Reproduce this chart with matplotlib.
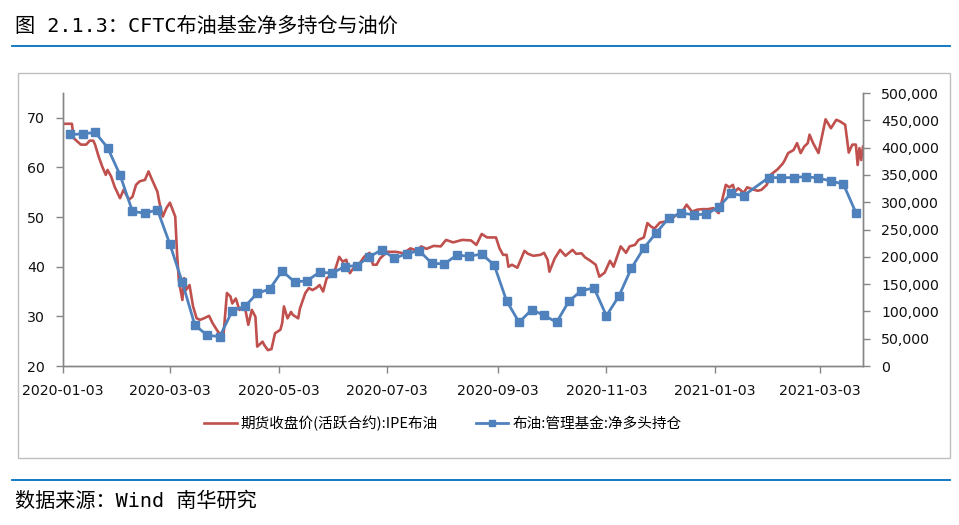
import matplotlib
matplotlib.use('Agg')
import matplotlib.pyplot as plt
import matplotlib.dates as mdates
import matplotlib.ticker as mticker
import pandas as pd
from matplotlib.patches import Rectangle
from matplotlib.lines import Line2D

CJK = ['Noto Sans CJK SC', 'DejaVu Sans']
MONO_CJK = ['DejaVu Sans Mono', 'Noto Sans CJK SC']

# 期货收盘价(活跃合约):IPE布油
price_dates = [
    '2020-01-03', '2020-01-08', '2020-01-09', '2020-01-13', '2020-01-16', '2020-01-18', '2020-01-20',
    '2020-01-21', '2020-01-23', '2020-01-25', '2020-01-27', '2020-01-28', '2020-01-30', '2020-02-01',
    '2020-02-04', '2020-02-06', '2020-02-09', '2020-02-11', '2020-02-13', '2020-02-15', '2020-02-18',
    '2020-02-20', '2020-02-22', '2020-02-25', '2020-02-26', '2020-02-28', '2020-03-01', '2020-03-03',
    '2020-03-06', '2020-03-07', '2020-03-08', '2020-03-10', '2020-03-11', '2020-03-12', '2020-03-14',
    '2020-03-16', '2020-03-18', '2020-03-20', '2020-03-22', '2020-03-25', '2020-03-27', '2020-03-30',
    '2020-04-02', '2020-04-04', '2020-04-06', '2020-04-07', '2020-04-09', '2020-04-11', '2020-04-14',
    '2020-04-16', '2020-04-18', '2020-04-20', '2020-04-21', '2020-04-24', '2020-04-25', '2020-04-27',
    '2020-04-29', '2020-05-01', '2020-05-04', '2020-05-05', '2020-05-06', '2020-05-08', '2020-05-10',
    '2020-05-11', '2020-05-14', '2020-05-15', '2020-05-18', '2020-05-20', '2020-05-22', '2020-05-24',
    '2020-05-26', '2020-05-28', '2020-05-30', '2020-06-02', '2020-06-04', '2020-06-06', '2020-06-08',
    '2020-06-10', '2020-06-12', '2020-06-14', '2020-06-17', '2020-06-20', '2020-06-23', '2020-06-25',
    '2020-06-27', '2020-06-29', '2020-07-03', '2020-07-08', '2020-07-12', '2020-07-16', '2020-07-20',
    '2020-07-22', '2020-07-25', '2020-07-29', '2020-08-02', '2020-08-05', '2020-08-09', '2020-08-14',
    '2020-08-19', '2020-08-22', '2020-08-25', '2020-08-28', '2020-09-02', '2020-09-04', '2020-09-06',
    '2020-09-08', '2020-09-09', '2020-09-11', '2020-09-14', '2020-09-18', '2020-09-20', '2020-09-23',
    '2020-09-27', '2020-09-29', '2020-10-01', '2020-10-02', '2020-10-05', '2020-10-08', '2020-10-11',
    '2020-10-15', '2020-10-17', '2020-10-20', '2020-10-22', '2020-10-25', '2020-10-28', '2020-10-30',
    '2020-11-02', '2020-11-05', '2020-11-07', '2020-11-11', '2020-11-14', '2020-11-16', '2020-11-19',
    '2020-11-21', '2020-11-24', '2020-11-26', '2020-11-28', '2020-11-30', '2020-12-03', '2020-12-06',
    '2020-12-09', '2020-12-12', '2020-12-15', '2020-12-18', '2020-12-21', '2020-12-24', '2020-12-27',
    '2020-12-30', '2021-01-02', '2021-01-05', '2021-01-07', '2021-01-09', '2021-01-11', '2021-01-13',
    '2021-01-14', '2021-01-16', '2021-01-19', '2021-01-21', '2021-01-24', '2021-01-27', '2021-01-29',
    '2021-02-01', '2021-02-03', '2021-02-07', '2021-02-10', '2021-02-11', '2021-02-13', '2021-02-16',
    '2021-02-18', '2021-02-20', '2021-02-22', '2021-02-24', '2021-02-25', '2021-02-27', '2021-03-02',
    '2021-03-06', '2021-03-09', '2021-03-12', '2021-03-14', '2021-03-17', '2021-03-19', '2021-03-21',
    '2021-03-23', '2021-03-24', '2021-03-25', '2021-03-26', '2021-03-27',
]
price = [
    68.8, 68.8, 65.9, 64.6, 64.6, 65.4, 65.4,
    64.6, 62.2, 60.2, 58.5, 59.5, 58.2, 56.1,
    53.8, 55.5, 53.5, 54.1, 56.5, 57.2, 57.5,
    59.2, 57.5, 55.1, 53.1, 50.1, 51.8, 52.9,
    50.1, 42.7, 37.3, 33.3, 37.7, 35.3, 36.3,
    32.0, 29.6, 29.3, 29.6, 30.1, 28.6, 26.9,
    25.9, 34.7, 34.0, 32.6, 33.6, 31.3, 32.0,
    28.3, 31.3, 29.9, 23.9, 24.9, 24.2, 23.2,
    23.4, 26.6, 27.3, 28.6, 32.0, 29.6, 30.9,
    30.3, 29.6, 31.6, 34.7, 35.7, 35.3, 35.7,
    36.3, 35.0, 37.7, 38.3, 39.7, 42.0, 41.0,
    41.4, 38.7, 39.7, 40.4, 42.0, 42.8, 40.4,
    40.4, 41.7, 43.0, 43.0, 42.7, 43.7, 43.2,
    44.1, 43.6, 44.2, 44.1, 45.4, 44.9, 45.4,
    45.3, 44.4, 46.6, 45.9, 45.9, 43.7, 42.4,
    42.4, 40.0, 40.4, 39.8, 43.2, 42.6, 42.2,
    42.4, 42.8, 41.4, 39.0, 41.7, 43.4, 42.2,
    43.4, 42.6, 42.7, 41.9, 41.2, 40.4, 38.0,
    38.8, 41.2, 40.0, 44.1, 42.8, 44.1, 44.4,
    45.4, 45.9, 48.8, 48.1, 47.7, 48.9, 49.1,
    49.4, 50.4, 50.8, 52.5, 51.1, 51.5, 51.6,
    51.6, 51.8, 50.8, 53.5, 56.5, 56.0, 56.5,
    55.1, 55.8, 54.9, 56.0, 55.6, 55.3, 55.5,
    56.5, 58.5, 59.6, 60.8, 61.4, 62.9, 63.5,
    64.9, 62.9, 64.2, 64.9, 66.6, 64.9, 62.9,
    69.7, 67.9, 69.6, 69.3, 68.6, 63.0, 64.6,
    64.6, 60.5, 63.9, 61.5, 64.2,
]

# 布油:管理基金:净多头持仓 (weekly, Tuesday; 2021-01-26 missing)
pos_dates = [d for d in pd.date_range('2020-01-07', '2021-03-23', freq='7D')
             if d != pd.Timestamp('2021-01-26')]
net_long = [
    424000, 425000, 428000, 400000, 350000, 283000, 280000, 286000, 223000, 153000,
    75000, 56000, 54000, 101000, 109000, 133000, 141000, 174000, 154000, 156000,
    172000, 170000, 182000, 184000, 200000, 213000, 197000, 206000, 211000, 188000,
    187000, 203000, 201000, 205000, 185000, 119000, 80000, 103000, 93000, 80000,
    119000, 138000, 143000, 92000, 128000, 179000, 216000, 244000, 271000, 280000,
    277000, 278000, 291000, 316000, 312000, 345000, 345000, 345000, 347000, 344000,
    339000, 333000, 281000,
]

x_ticks = ['2020-01-03', '2020-03-03', '2020-05-03', '2020-07-03', '2020-09-03',
           '2020-11-03', '2021-01-03', '2021-03-03']

red = '#C0504D'
blue = '#4F81BD'
grey = '#868686'

W, H = 959, 525
fig = plt.figure(figsize=(W / 100, H / 100), dpi=100)

ax = fig.add_axes([63 / W, 1 - 366 / H, 800 / W, 273 / H])
ax2 = ax.twinx()

ax.plot(pd.to_datetime(price_dates), price, color=red, lw=1.9, solid_joinstyle='round')
ax2.plot(pos_dates, net_long, color=blue, lw=2.0, marker='s', markersize=5.4,
         markeredgecolor=blue, markerfacecolor=blue)

ax.set_xlim(pd.Timestamp('2020-01-03'), pd.Timestamp('2021-03-27'))
ax.set_ylim(20, 75)
ax.set_yticks([20, 30, 40, 50, 60, 70])
ax2.set_ylim(0, 500000)
ax2.set_yticks(range(0, 500001, 50000))
ax2.yaxis.set_major_formatter(mticker.FuncFormatter(lambda v, p: f'{int(v):,}'))
ax.set_xticks(pd.to_datetime(x_ticks))
ax.xaxis.set_major_formatter(mdates.DateFormatter('%Y-%m-%d'))

for a in (ax, ax2):
    a.spines['top'].set_visible(False)
    for s in ('left', 'right', 'bottom'):
        a.spines[s].set_color(grey)
        a.spines[s].set_linewidth(1.0)
    a.tick_params(axis='both', direction='out', color=grey, length=5, width=1.0,
                  labelsize=10.2, labelcolor='#111111')
ax.tick_params(axis='y', pad=8)
ax.tick_params(axis='x', pad=8)
ax2.tick_params(axis='y', pad=8)

# legend
handles = [Line2D([], [], color=red, lw=1.9),
           Line2D([], [], color=blue, lw=2.0, marker='s', markersize=5)]
labels = ['期货收盘价(活跃合约):IPE布油', '布油:管理基金:净多头持仓']
fig.legend(handles, labels, loc='center', bbox_to_anchor=(0.462, 1 - 423 / H), ncol=2,
           frameon=False, prop={'family': CJK, 'size': 10.5}, handlelength=2.2,
           handletextpad=0.3, columnspacing=2.6)

# frame, title, rules, source
fig.add_artist(Rectangle((18 / W, 1 - 458 / H), 932 / W, 385 / H, transform=fig.transFigure,
                         fill=False, edgecolor='#BFBFBF', lw=1.0))
fig.add_artist(Line2D([12 / W, 950 / W], [1 - 46 / H] * 2, color='#0070C0', lw=1.3))
fig.add_artist(Line2D([12 / W, 950 / W], [1 - 480 / H] * 2, color='#0070C0', lw=1.3))
fig.text(15 / W, 1 - 26 / H, '图 2.1.3：CFTC布油基金净多持仓与油价', family=MONO_CJK,
         fontsize=14.5, va='center', ha='left', color='#000000')
fig.text(15 / W, 1 - 501 / H, '数据来源：Wind 南华研究', family=MONO_CJK,
         fontsize=14.5, va='center', ha='left', color='#000000')

fig.savefig('out.png', dpi=100)
